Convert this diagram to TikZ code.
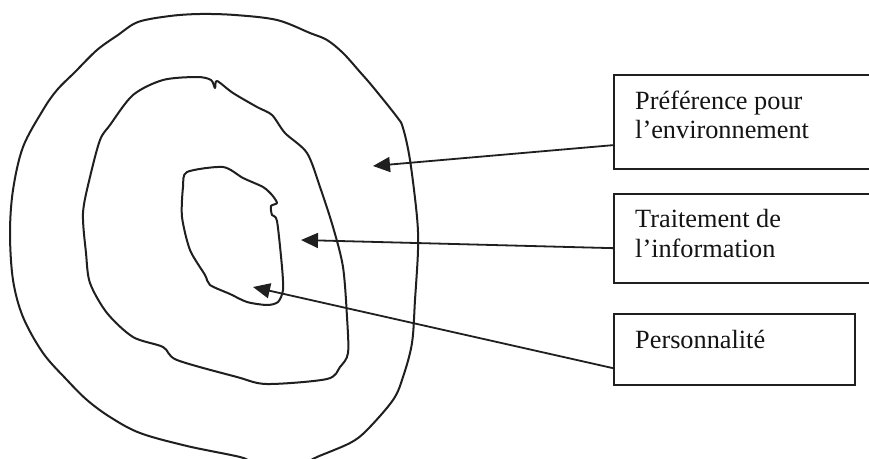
\documentclass[tikz,border=0pt]{standalone}
\usepackage{fontspec}
\setmainfont{Liberation Serif}
\usetikzlibrary{arrows.meta,calc}
\begin{document}
\begin{tikzpicture}[x=1pt,y=-1pt,
  ring/.style={line width=2pt, line join=round, line cap=round, draw=black!88},
  lbox/.style={draw=black!88, line width=2.3pt, rectangle, inner sep=0pt, anchor=north west},
  lbl/.style={anchor=base west, inner sep=0pt, font=\fontsize{26.3}{29}\selectfont, text=black!92},
  arr/.style={line width=1.8pt, draw=black!88, -{Triangle[length=17pt,width=15pt]}}]
\fill[white] (0,0) rectangle (869,458);
\useasboundingbox (0,0) rectangle (869,458);

% outer open ring
\draw[ring] plot[smooth, tension=0.55] coordinates {
  (250,462) (240,457) (187,446) (140,433) (110,417) (87,400) (67,380) (43,353)
  (23,317) (13,280) (10,233) (13,190) (23,147) (43,110) (57,90) (75,72) (97,50)
  (118,35) (138,22) (170,16) (200,14) (235,15) (277,20) (310,33) (327,40)
  (343,53) (360,72) (373,87) (397,117) (403,128) (410,160) (417,217) (418,250)
  (415,300) (412,343) (403,377) (393,400) (367,430) (350,443) (317,457) (308,462)};

% middle ring
\draw[ring] plot[smooth cycle, tension=0.5] coordinates {
  (133,95) (163,80) (197,77) (211,80) (215,88) (217,81) (233,93) (257,107)
  (272,115) (285,133) (307,153) (320,187) (333,227) (343,267) (347,317)
  (348,353) (340,367) (327,379) (267,384) (237,377) (177,360) (163,347)
  (133,337) (107,313) (90,283) (86,253) (83,213) (90,177) (100,140) (110,125)};

% inner ring
\draw[ring] plot[smooth cycle, tension=0.45] coordinates {
  (187,172) (223,167) (243,178) (263,187) (272,195) (277,203) (271,206)
  (272,215) (277,221) (282,267) (283,290) (278,302) (267,305) (247,302)
  (230,294) (210,285) (205,275) (190,250) (182,217) (183,187)};

% boxes
\node[lbox, minimum width=280pt, minimum height=94pt] (box1) at (613,74) {};
\node[lbox, minimum width=280pt, minimum height=89pt] (box2) at (613,193) {};
\node[lbox, minimum width=241pt, minimum height=71pt] (box3) at (613,313) {};

% labels
\node[lbl] (l1a) at (635,109) {Préférence pour};
\node[lbl] (l1b) at (635,138) {l’environnement};
\node[lbl] (l2a) at (635,227) {Traitement de};
\node[lbl] (l2b) at (635,257) {l’information};
\node[lbl] (l3) at (635,348) {Personnalité};

% arrow targets
\coordinate (t1) at (373,166);
\coordinate (t2) at (301,240);
\coordinate (t3) at (253,287);

\draw[arr] ([yshift=-23pt]box1.west) -- (t1);
\draw[arr] ([yshift=-9.5pt]box2.west) -- (t2);
\draw[arr] ([yshift=-18.5pt]box3.west) -- (t3);
\end{tikzpicture}
\end{document}
